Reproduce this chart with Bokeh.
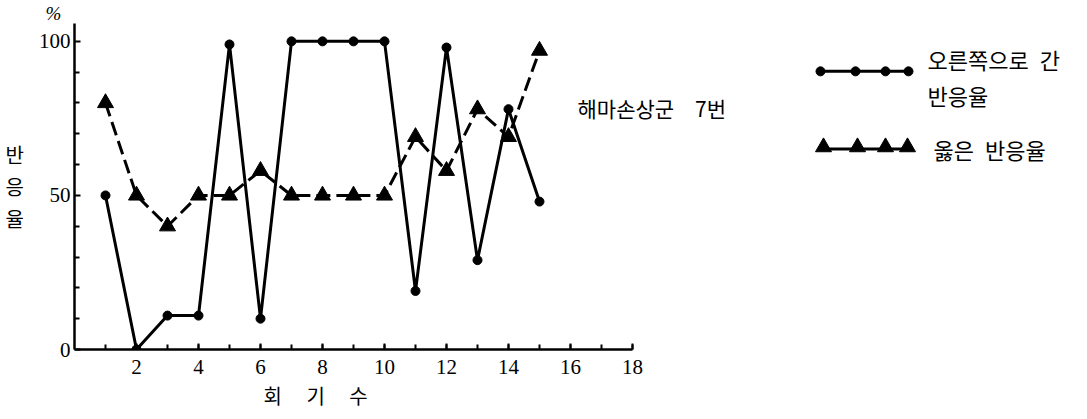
from bokeh.plotting import figure
from bokeh.models import Range1d, FixedTicker, Title
from bokeh.core.properties import value
from bokeh.embed import file_html
from bokeh.resources import INLINE

EM = "\u2003"   # em space (kept by SVG text, unlike runs of plain spaces)
EN = "\u2002"

# ---------------- data ----------------
trials = list(range(1, 16))
right_turn_rate = [50, 0, 11, 11, 99, 10, 100, 100, 100, 100, 19, 98, 29, 78, 48]
correct_rate = [80, 50, 40, 50, 50, 58, 50, 50, 50, 50, 69, 58, 78, 69, 97]
x_tick_values = [2, 4, 6, 8, 10, 12, 14, 16, 18]
x_minor_ticks = list(range(1, 19))
y_tick_values = [0, 50, 100]
y_minor_ticks = [10, 20, 30, 40, 60, 70, 80, 90]
x_axis_end = 18
x_title = "회" + EM + " 기" + EM + " 수"
y_title = "반\n응\n율"
y_unit = "%"
group_label = "해마손상군" + EM + "7번"
legend_right = ["오른쪽으로" + EN + "간", "반응율"]
legend_correct = "옳은" + EN + "반응율"

KR = "Noto Sans CJK KR"
SERIF = "Liberation Serif"

# ---------------- layout constants (pixels) ----------------
W, H = 1087, 419
LEFT, TOP, BOTTOM = 74, 22, 349
PX_PER_X = 31.0
YMAX = 105.8
XMAX = (W - LEFT) / PX_PER_X

p = figure(width=W, height=H, x_range=Range1d(0, XMAX), y_range=Range1d(0, YMAX),
           output_backend="svg", toolbar_location=None,
           min_border_left=LEFT, min_border_right=0,
           min_border_top=TOP, min_border_bottom=H - BOTTOM)
p.outline_line_color = None
p.xgrid.visible = False
p.ygrid.visible = False
p.background_fill_color = "white"
p.border_fill_color = "white"


def dx(px):
    return (px - LEFT) / PX_PER_X


def dy(py):
    return (BOTTOM - py) / (BOTTOM - TOP) * YMAX


for ax in (p.xaxis, p.yaxis):
    ax.axis_line_width = 2.5
    ax.axis_line_color = "black"
    ax.major_tick_line_width = 2
    ax.minor_tick_line_width = 2
    ax.major_tick_in = 6
    ax.major_tick_out = 0
    ax.minor_tick_in = 5
    ax.minor_tick_out = 0
    ax.major_label_text_font = SERIF
    ax.major_label_text_font_size = "21px"
    ax.major_label_text_color = "black"

p.xaxis.ticker = FixedTicker(ticks=x_tick_values, minor_ticks=x_minor_ticks)
p.xaxis.bounds = (0, x_axis_end)
p.xaxis.major_label_standoff = 10
p.yaxis.ticker = FixedTicker(ticks=y_tick_values, minor_ticks=y_minor_ticks)
p.yaxis.major_label_standoff = 4
p.yaxis.axis_label = y_title
p.yaxis.axis_label_orientation = "horizontal"
p.yaxis.axis_label_text_font = KR
p.yaxis.axis_label_text_font_style = "normal"
p.yaxis.axis_label_text_font_size = "20px"
p.yaxis.axis_label_text_color = "black"
p.yaxis.axis_label_text_line_height = 1.1
p.yaxis.axis_label_standoff = 12

# unit "%" above the y axis and x-axis title below
p.add_layout(Title(text=y_unit, align="left", offset=-29, standoff=0, text_color="black",
                   text_font=SERIF, text_font_style="italic", text_font_size="19px"), "above")
p.add_layout(Title(text=x_title, align="left", offset=189, standoff=4, text_color="black",
                   text_font=KR, text_font_style="normal", text_font_size="20px"), "below")

# series: right-turn response rate (solid, circles)
p.line(trials, right_turn_rate, line_color="black", line_width=3)
p.scatter(trials, right_turn_rate, marker="circle", size=9, fill_color="black", line_color="black")

# series: correct response rate (dashed, triangles)
p.line(trials, correct_rate, line_color="black", line_width=3, line_dash="14 6")
p.scatter(trials, correct_rate, marker="triangle", size=16, fill_color="black", line_color="black")

# group label
p.text(x=[dx(577)], y=[dy(107)], text=[group_label], text_font=value(KR), text_font_size="21px",
       text_align="left", text_baseline="middle", text_color="black")

# legend (drawn by hand: four markers along each sample line)
lx_circ = [dx(v) for v in (820, 855, 885, 908)]
lx_tri = [dx(v) for v in (823, 857, 885, 907)]
p.line(lx_circ, [dy(70)] * 4, line_color="black", line_width=3)
p.scatter(lx_circ, [dy(70)] * 4, marker="circle", size=9, fill_color="black", line_color="black")
p.line(lx_tri, [dy(148)] * 4, line_color="black", line_width=3)
p.scatter(lx_tri, [dy(146)] * 4, marker="triangle", size=16, fill_color="black", line_color="black")
p.text(x=[dx(927), dx(927), dx(933)], y=[dy(58), dy(94), dy(148)],
       text=[legend_right[0], legend_right[1], legend_correct],
       text_font=value(KR), text_font_size="22px", text_baseline="middle", text_align="left",
       text_color="black")

open("out.html", "w").write(file_html(p, INLINE))
